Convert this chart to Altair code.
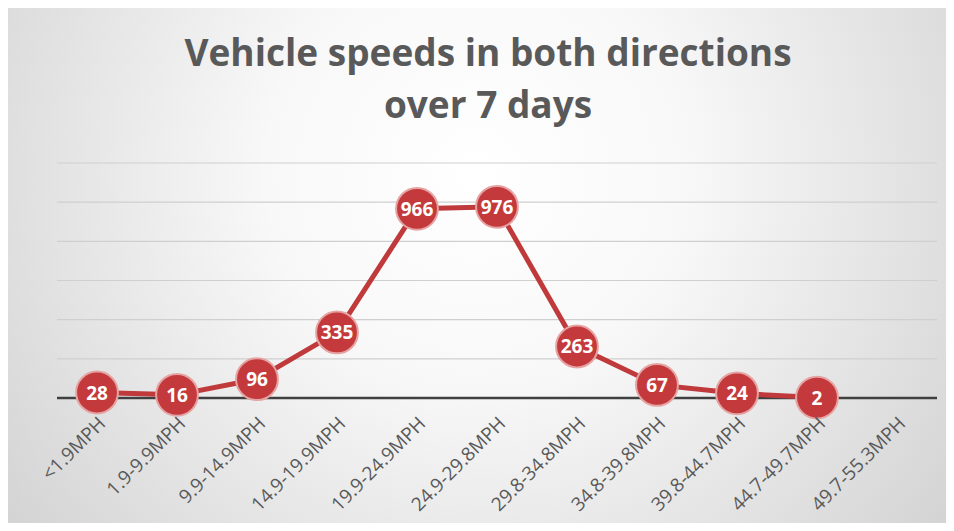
import altair as alt
import pandas as pd

categories = ["<1.9MPH", "1.9-9.9MPH", "9.9-14.9MPH", "14.9-19.9MPH", "19.9-24.9MPH",
              "24.9-29.8MPH", "29.8-34.8MPH", "34.8-39.8MPH", "39.8-44.7MPH",
              "44.7-49.7MPH", "49.7-55.3MPH"]
counts = [28, 16, 96, 335, 966, 976, 263, 67, 24, 2, None]
grid_values = [200, 400, 600, 800, 1000, 1200]
title_lines = ["Vehicle speeds in both directions", "over 7 days"]

df = pd.DataFrame({"speed": categories, "count": counts})
pts = df.dropna()
grid_df = pd.DataFrame({"v": grid_values})

W, H = 880, 235
PL, PT, PR, PB = 49, 155, 9, 125

xs = alt.X("speed:N", sort=categories,
           scale=alt.Scale(type="point", domain=categories, padding=0.5),
           axis=alt.Axis(title=None, ticks=False, domain=False, grid=False,
                         labelAngle=315, labelAlign="right", labelBaseline="middle",
                         labelFont="Open Sans", labelFontSize=19, labelColor="#595959",
                         labelPadding=22, labelOffset=5, zindex=1))
yscale = alt.Scale(domain=[0, 1200], nice=False, zero=True)

grad = {
    "gradient": "radial",
    "x1": 0.5, "y1": 0.4, "r1": 0,
    "x2": 0.5, "y2": 0.4, "r2": 0.75,
    "stops": [
        {"offset": 0, "color": "#ffffff"},
        {"offset": 0.3, "color": "#f8f8f8"},
        {"offset": 1, "color": "#c8c8c8"},
    ],
}

bg = alt.Chart(alt.InlineData(values=[{"a": 1}])).mark_rect(fill=grad).encode(
    x=alt.value(-PL), x2=alt.value(W + PR), y=alt.value(-PT), y2=alt.value(H + PB)
)

grid = alt.Chart(grid_df).mark_rule(color="#cfcfcf", strokeWidth=1.2).encode(
    y=alt.Y("v:Q", scale=yscale, axis=None)
)

zero = alt.Chart(alt.InlineData(values=[{"z": 0}])).mark_rule(color="#404040", strokeWidth=2.5).encode(
    y=alt.Y("z:Q", scale=yscale, axis=None)
)

line = alt.Chart(df).mark_line(color="#c0393b", strokeWidth=5).encode(
    x=xs, y=alt.Y("count:Q", scale=yscale, axis=None)
)

points = alt.Chart(pts).mark_circle(size=1750, color="#c43a3c", opacity=1,
                                    stroke="#e6a3a3", strokeWidth=2).encode(
    x=xs, y=alt.Y("count:Q", scale=yscale, axis=None)
)

labels = alt.Chart(pts).mark_text(color="white", font="Open Sans", fontSize=19,
                                  fontWeight="bold", align="center", baseline="middle", dy=1).encode(
    x=xs, y=alt.Y("count:Q", scale=yscale, axis=None), text=alt.Text("count:Q", format="d")
)

chart = alt.layer(bg, grid, zero, line, points, labels).properties(
    width=W, height=H,
    padding={"left": PL, "top": PT, "right": PR, "bottom": PB},
    autosize=alt.AutoSizeParams(type="none"),
    background="#d8d8d8",
    title=alt.TitleParams(text=title_lines, font="Open Sans", fontSize=37, fontWeight="bold",
                          color="#595959", anchor="middle", lineHeight=52, offset=-147, dx=-9,
                          baseline="alphabetic"),
).configure_view(stroke=None)

chart.save("out.html", embed_options={"renderer": "svg", "actions": False})
